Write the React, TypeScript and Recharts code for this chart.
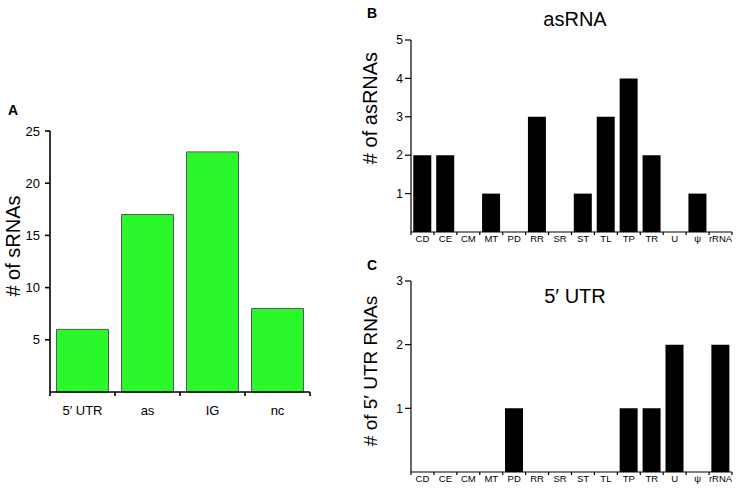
import React from 'react';
import { BarChart, Bar, XAxis, YAxis } from 'recharts';

// panel A: sRNA classes
const typeCats = ['5′ UTR', 'as', 'IG', 'nc'];
const typeCounts = [6, 17, 23, 8];
const typeTicks = [5, 10, 15, 20, 25];

// panels B and C: functional categories
const funcCats = ['CD', 'CE', 'CM', 'MT', 'PD', 'RR', 'SR', 'ST', 'TL', 'TP', 'TR', 'U', 'ψ', 'rRNA'];
const asCounts = [2, 2, 0, 1, 0, 3, 0, 1, 3, 4, 2, 0, 1, 0];
const utrCounts = [0, 0, 0, 0, 1, 0, 0, 0, 0, 1, 1, 2, 0, 2];
const asTicks = [1, 2, 3, 4, 5];
const utrTicks = [1, 2, 3];

const FONT = '"Liberation Sans", Arial, Helvetica, sans-serif';

const typeData = typeCats.map((name, i) => ({ name, value: typeCounts[i] }));
const asData = funcCats.map((name, i) => ({ name, value: asCounts[i] }));
const utrData = funcCats.map((name, i) => ({ name, value: utrCounts[i] }));

// tick marks sit on the band edges, labels at the band centre
const BandTick = (props: any) => {
  const { x, y, payload, index, band, count, fontSize, dy, tickLen, strokeWidth } = props;
  return (
    <g>
      <line x1={x - band / 2} x2={x - band / 2} y1={y} y2={y + tickLen} stroke="#000" strokeWidth={strokeWidth} />
      {index === count - 1 && (
        <line x1={x + band / 2} x2={x + band / 2} y1={y} y2={y + tickLen} stroke="#000" strokeWidth={strokeWidth} />
      )}
      <text x={x} y={y + dy} textAnchor="middle" fontSize={fontSize} fontFamily={FONT} fill="#000">
        {payload.value}
      </text>
    </g>
  );
};

const SmallPanel = ({ data, ticks, max, height, top }: any) => {
  const width = 367;
  const plotW = width - 41 - 5;
  const band = plotW / data.length;
  return (
    <BarChart
      width={width}
      height={height}
      data={data}
      margin={{ top, right: 5, bottom: 0, left: 0 }}
      barCategoryGap="10%"
      style={{ position: 'absolute', left: 370, top: 0 }}
    >
      <XAxis
        dataKey="name"
        height={18}
        interval={0}
        tickSize={0}
        tickMargin={0}
        axisLine={{ stroke: '#000', strokeWidth: 1.2 }}
        tickLine={false}
        tick={(p: any) => (
          <BandTick {...p} band={band} count={data.length} fontSize={9.5} dy={10} tickLen={3} strokeWidth={1.2} />
        )}
      />
      <YAxis
        width={41}
        domain={[0, max]}
        ticks={ticks}
        interval={0}
        tickSize={6}
        tickMargin={2}
        axisLine={{ stroke: '#000', strokeWidth: 1.2 }}
        tickLine={{ stroke: '#000', strokeWidth: 1.2 }}
        tick={{ fontSize: 12, fill: '#000', fontFamily: FONT }}
      />
      <Bar dataKey="value" fill="#000" isAnimationActive={false} />
    </BarChart>
  );
};

export default function App() {
  const aBand = 260 / typeCats.length;
  return (
    <div style={{ position: 'relative', width: 737, height: 490, background: '#fff', fontFamily: FONT }}>
      <style>{'body{margin:0}'}</style>

      <div style={{ position: 'absolute', left: 0, top: 100 }}>
        <BarChart
          width={330}
          height={340}
          data={typeData}
          margin={{ top: 31, right: 20, bottom: 18, left: 0 }}
          barCategoryGap="10%"
        >
          <XAxis
            dataKey="name"
            height={30}
            interval={0}
            tickSize={0}
            tickMargin={0}
            axisLine={{ stroke: '#000', strokeWidth: 1.6 }}
            tickLine={false}
            tick={(p: any) => (
              <BandTick {...p} band={aBand} count={typeCats.length} fontSize={13} dy={23} tickLen={4} strokeWidth={1.6} />
            )}
          />
          <YAxis
            width={50}
            domain={[0, 25]}
            ticks={typeTicks}
            interval={0}
            tickSize={5}
            tickMargin={5}
            axisLine={{ stroke: '#000', strokeWidth: 1.6 }}
            tickLine={{ stroke: '#000', strokeWidth: 1.6 }}
            tick={{ fontSize: 13, fill: '#000', fontFamily: FONT }}
          />
          <Bar dataKey="value" fill="#2AF82A" stroke="#5a5a5a" strokeWidth={1} isAnimationActive={false} />
        </BarChart>
      </div>

      <div style={{ position: 'absolute', left: 0, top: 0 }}>
        <SmallPanel data={asData} ticks={asTicks} max={5} height={250} top={40} />
      </div>
      <div style={{ position: 'absolute', left: 0, top: 250 }}>
        <SmallPanel data={utrData} ticks={utrTicks} max={3} height={240} top={31} />
      </div>

      <svg width={737} height={490} style={{ position: 'absolute', left: 0, top: 0, pointerEvents: 'none' }}>
        <g fontFamily={FONT} fill="#000">
          <text x={8} y={115} fontSize={14} fontWeight="bold">A</text>
          <text x={367} y={18} fontSize={14} fontWeight="bold">B</text>
          <text x={367} y={270} fontSize={14} fontWeight="bold">C</text>

          <text x={20} y={246} fontSize={20} textAnchor="middle" transform="rotate(-90 20 246)"># of sRNAs</text>
          <text x={377} y={108} fontSize={20} textAnchor="middle" transform="rotate(-90 377 108)"># of asRNAs</text>
          <text x={377} y={371} fontSize={19} textAnchor="middle" transform="rotate(-90 377 371)"># of 5′ UTR RNAs</text>

          <text x={575} y={26} fontSize={20} textAnchor="middle">asRNA</text>
          <text x={575} y={303} fontSize={20} textAnchor="middle">5′ UTR</text>
        </g>
      </svg>
    </div>
  );
}
